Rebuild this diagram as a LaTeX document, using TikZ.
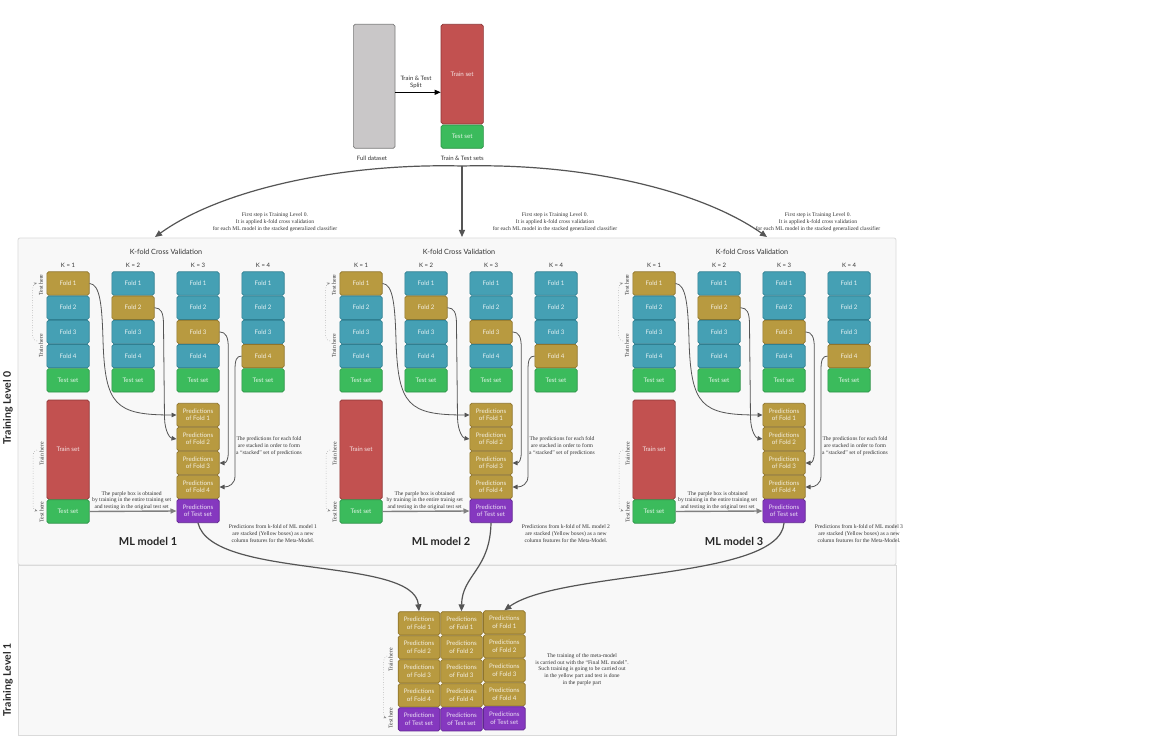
\documentclass[tikz,border=0pt]{standalone}
\usepackage{fontspec}
\newfontfamily\lato{Lato}
\newfontfamily\annf{Liberation Serif}
\usetikzlibrary{arrows.meta}
\definecolor{cblue}{HTML}{45A0B4}
\definecolor{cblueD}{HTML}{2F7F91}
\definecolor{cgold}{HTML}{B89A40}
\definecolor{cgoldD}{HTML}{8F742A}
\definecolor{cgreen}{HTML}{3BBB5C}
\definecolor{cgreenD}{HTML}{2C9246}
\definecolor{cred}{HTML}{C25150}
\definecolor{credD}{HTML}{8E3535}
\definecolor{cpurple}{HTML}{8538BF}
\definecolor{cpurpleD}{HTML}{5F2590}
\definecolor{cgray}{HTML}{C9C7C8}
\definecolor{cgrayD}{HTML}{7B7B7B}
\definecolor{cpanel}{HTML}{F8F8F8}
\definecolor{cpanelD}{HTML}{DADADA}
\definecolor{cline}{HTML}{555555}
\definecolor{ctext}{HTML}{333333}
\tikzset{
  box/.style={draw, rounded corners=1.8pt, minimum width=42.3pt, minimum height=23.4pt,
    inner sep=0pt, line width=0.7pt, font=\lato\fontsize{6.2}{7.2}\selectfont,
    text=white, text opacity=0.85, align=center},
  ann/.style={font=\annf\fontsize{5.6}{6.7}\selectfont, text=ctext, align=center, inner sep=0pt},
  rl/.style={font=\annf\fontsize{5.8}{6}\selectfont, text=ctext, rotate=90, inner sep=0pt},
  ttl/.style={font=\lato\fontsize{7.2}{8}\selectfont, text=ctext, inner sep=0pt},
  klab/.style={font=\lato\fontsize{6}{7}\selectfont, text=ctext, inner sep=0pt},
  mlt/.style={font=\lato\bfseries\fontsize{11}{13}\selectfont, text=black!85, inner sep=0pt},
  lvl/.style={font=\lato\bfseries\fontsize{10.5}{12}\selectfont, text=black!85, rotate=90, inner sep=0pt},
  conn/.style={draw=cline, line width=0.8pt, -{Triangle[length=5pt,width=4.5pt]}},
  bigarrow/.style={draw=cline, line width=1.2pt, -{Triangle[length=7pt,width=6pt]}},
  thickarrow/.style={draw=black!50, line width=1.4pt, -{Triangle[length=6pt,width=5pt]}},
  dots/.style={draw=black!45, line width=0.5pt, dotted, -{Stealth[length=3pt,width=2.5pt]}},
  panel/.style={fill=cpanel, draw=cpanelD, line width=0.8pt}
}
\begin{document}
\begin{tikzpicture}[x=1pt,y=-1pt]
\useasboundingbox (0,0) rectangle (1152,738);
\fill[white] (0,0) rectangle (1152,738);
% panels
\draw[panel, rounded corners=2pt] (18,238) rectangle (896,565);
\draw[panel] (18,565) rectangle (896,735);
\node[lvl] (lv0) at (8,408) {Training Level 0};
\node[lvl] (lv1) at (8,680) {Training Level 1};

% top split
\node[box, fill=cgray, draw=cgrayD, minimum width=41.7pt, minimum height=124pt] (full) at (374.2,86.3) {};
\node[box, fill=cred, draw=credD, minimum height=99.7pt] (train) at (462.2,74.2) {Train set};
\node[box, fill=cgreen, draw=cgreenD, minimum height=23.3pt] (test) at (462.2,136.7) {Test set};
\node[klab] (fulllab) at (372,158.3) {Full dataset};
\node[klab] (ttlab) at (462.3,158.3) {Train \& Test sets};
\node[klab, align=center, font=\lato\fontsize{6}{7}\selectfont] (splitlab) at (416,82) {Train \& Test\\Split};
\draw[draw=black, line width=1pt, -{Triangle[length=6pt,width=5pt]}] ([yshift=-6pt]full.east) -- ([yshift=-6pt]full.east -| train.west);

\coordinate (src) at (462,166);
\coordinate (a0) at (155,237);
\coordinate (a1) at (462,237);
\coordinate (a2) at (767,237);
\draw[bigarrow] (src) .. controls (340,163) and (220,190) .. (a0);
\draw[bigarrow] (src) -- (a1);
\draw[bigarrow] (src) .. controls (584,163) and (700,190) .. (a2);
\node[ann] (fs0) at (275,222) {First step is Training Level 0.\\It is applied k-fold cross validation\\for each ML model in the stacked generalized classifier};
\node[ann] (fs1) at (555,222) {First step is Training Level 0.\\It is applied k-fold cross validation\\for each ML model in the stacked generalized classifier};
\node[ann] (fs2) at (818,222) {First step is Training Level 0.\\It is applied k-fold cross validation\\for each ML model in the stacked generalized classifier};

% three panels
\foreach \p/\m/\tw in {0/1/training,1/2/trainig,2/3/training}{
  \pgfmathsetmacro\dx{293*\p}
  \node[ttl] (kt\p) at ({\dx+166},252) {K-fold Cross Validation};
  \foreach \k in {1,...,4}{
    \pgfmathsetmacro\cx{\dx+68+65*(\k-1)}
    \node[klab] (kl\p-\k) at (\cx,265) {K = \k};
    \foreach \r in {1,...,4}{
      \pgfmathsetmacro\cy{283.5+24.2*(\r-1)}
      \ifnum\r=\k \def\fc{cgold}\def\dc{cgoldD}\else\def\fc{cblue}\def\dc{cblueD}\fi
      \node[box, fill=\fc, draw=\dc] (f\p-\k-\r) at (\cx,\cy) {Fold \r};
    }
    \node[box, fill=cgreen, draw=cgreenD] (t\p-\k) at (\cx,380.3) {Test set};
  }
  \node[rl] (th\p) at ({\dx+41},285) {Test here};
  \node[rl] (rh\p) at ({\dx+41},346) {Train here};
  \draw[dots] ({\dx+37},341) .. controls ({\dx+32.5},340) and ({\dx+32.5},337) .. ({\dx+32.5},330) -- ({\dx+32.5},294) .. controls ({\dx+32.5},287) and ({\dx+33},284) .. ({\dx+37},283);
  % lower
  \node[box, fill=cred, draw=credD, minimum height=99.3pt] (tr\p) at ({\dx+68},449.7) {Train set};
  \node[box, fill=cgreen, draw=cgreenD] (ts\p) at ({\dx+68},511.5) {Test set};
  \node[rl] (rl\p) at ({\dx+41.7},454) {Train here};
  \node[rl] (tl\p) at ({\dx+41.7},512) {Test here};
  \draw[dots] ({\dx+37},450) .. controls ({\dx+33},451) and ({\dx+33},455) .. ({\dx+33},462) -- ({\dx+33},503) .. controls ({\dx+33},508) and ({\dx+34},510) .. ({\dx+37.5},511);
  \foreach \r in {1,...,4}{
    \pgfmathsetmacro\cy{415+24*(\r-1)}
    \node[box, fill=cgold, draw=cgoldD] (pf\p-\r) at ({\dx+198},\cy) {Predictions\\of Fold \r};
  }
  \node[box, fill=cpurple, draw=cpurpleD] (pt\p) at ({\dx+198},511) {Predictions\\of Test set};
  % fold connectors
  \draw[conn] (f\p-1-1.east) .. controls ({\dx+100},284) and ({\dx+102},305) .. ({\dx+103},340) .. controls ({\dx+105},405) and ({\dx+115},415) .. (pf\p-1.west);
  \draw[conn] (f\p-2-2.east) .. controls ({\dx+161},308) and ({\dx+163.5},312) .. ({\dx+163.5},325) -- ({\dx+164.5},418) .. controls ({\dx+165},432) and ({\dx+170},438) .. (pf\p-2.west);
  \draw[conn] (f\p-3-3.east) .. controls ({\dx+226},332) and ({\dx+228.3},337) .. ({\dx+228.3},348) -- ({\dx+228.3},452) .. controls ({\dx+228.3},460) and ({\dx+226},463) .. (pf\p-3.east);
  \draw[conn] (f\p-4-4.west) .. controls ({\dx+236.5},356) and ({\dx+235},360) .. ({\dx+235},370) -- ({\dx+235},476) .. controls ({\dx+235},484) and ({\dx+229},487) .. (pf\p-4.east);
  \draw[thickarrow] (ts\p.east) -- (pt\p.west);
  % annotations
  \node[ann] (pa\p) at ({\dx+131.7},500.5) {The purple box is obtained\\by training in the entire \tw\ set\\and testing in the original test set};
  \node[ann] (sa\p) at ({\dx+269},446) {The predictions for each fold\\are stacked in order to form\\a “stacked” set of predictions};
  \node[ann] (ma\p) at ({\dx+273},533.5) {Predictions from k-fold of ML model \m\\are stacked (Yellow boxes) as a new\\column features for the Meta-Model.};
  \node[mlt] (ml\p) at ({\dx+148},541) {ML model \m};
}

% level 1 grid
\foreach \c/\x/\s in {1/419/0,2/461.5/0,3/504.3/-1}{
  \foreach \r in {1,...,4}{
    \pgfmathsetmacro\cy{623.3+24*(\r-1)+\s}
    \node[box, fill=cgold, draw=cgoldD, minimum width=41.7pt, minimum height=23.3pt] (g\c-\r) at (\x,\cy) {Predictions\\of Fold \r};
  }
  \pgfmathsetmacro\cy{719.3+\s}
  \node[box, fill=cpurple, draw=cpurpleD, minimum width=41.7pt, minimum height=23.3pt] (gt\c) at (\x,\cy) {Predictions\\of Test set};
}
\node[rl] (grh) at (390.7,660) {Train here};
\node[rl] (gth) at (390.7,718) {Test here};
\draw[dots] (387,656) .. controls (384,657) and (383.5,660) .. (383.5,666) -- (383.5,710) .. controls (383.5,715) and (384,717) .. (386.5,718);
\node[ann] (meta) at (582,669.5) {The training of the meta-model\\is carried out with the “Final ML model”.\\Such training is going to be carried out\\in the yellow part and test is done\\in the purple part};

\draw[bigarrow] (pt0.south) .. controls (212,580) and (414,556) .. (g1-1.north);
\draw[bigarrow] (pt1.south) .. controls (490,570) and (462,575) .. (g2-1.north);
\draw[bigarrow] (pt2.south) .. controls (780,580) and (560,570) .. (g3-1.north);
\end{tikzpicture}
\end{document}
